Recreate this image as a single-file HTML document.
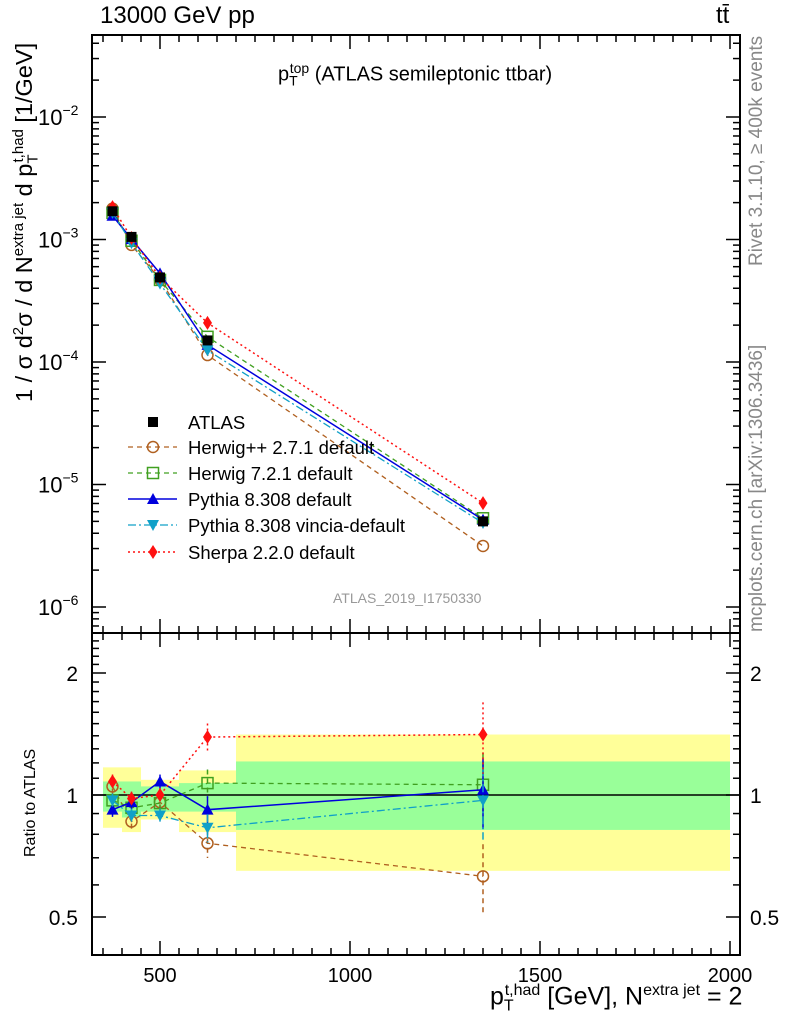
<!DOCTYPE html>
<html><head><meta charset="utf-8"><style>
body{margin:0;background:#fff}
svg{font-family:"Liberation Sans",Arial,sans-serif}
</style></head><body>
<svg id="c" width="786" height="1024" xmlns="http://www.w3.org/2000/svg">
<g id="bands"></g>
<g id="grid"></g>
<g id="series"></g>
<g id="frame"></g>
<g id="txt"></g>
</svg>
<script>
const binLo=[350,400,450,550,700];
const binHi=[400,450,550,700,2000];
const xs=[375,425,500,625,1350];
const atlas=[1.7e-3,1.05e-3,4.9e-4,1.5e-4,5.0e-6];
const yelHi=[1.17,1.17,1.09,1.15,1.41];
const yelLo=[0.83,0.81,0.87,0.81,0.65];
const grnHi=[1.08,1.08,1.05,1.07,1.21];
const grnLo=[0.91,0.88,0.91,0.91,0.82];
const rHerwigpp=[1.05,0.86,0.96,0.76,0.63];
const rHerwig7=[0.97,0.93,0.955,1.07,1.06];
const rPythia=[0.92,0.96,1.08,0.92,1.03];
const rVincia=[0.97,0.89,0.89,0.83,0.97];
const rSherpa=[1.08,0.98,1.0,1.39,1.41];
const yTicks=[-2,-3,-4,-5,-6];
const xTicks=[500,1000,1500,2000];
const rTicks=[0.5,1,2];

const NS="http://www.w3.org/2000/svg";
const L=92,R=740,T=35,MB=633,RB=955;
const X=v=>160+(v-500)*0.38;
const Y=v=>117-(Math.log10(v)+2)*122.5;
const YR=v=>795-Math.log2(v)*122;
function el(p,tag,a,txt){const e=document.createElementNS(NS,tag);for(const k in a)e.setAttribute(k,a[k]);if(txt!==undefined)e.textContent=txt;document.getElementById(p).appendChild(e);return e;}

for(let i=0;i<xs.length;i++){
 const b=el('bands','rect',{x:X(binLo[i]),y:YR(yelHi[i]),width:X(binHi[i])-X(binLo[i]),height:YR(yelLo[i])-YR(yelHi[i]),fill:'#ffff99'});
 
 
 const g=el('bands','rect',{x:X(binLo[i]),y:YR(grnHi[i]),width:X(binHi[i])-X(binLo[i]),height:YR(grnLo[i])-YR(grnHi[i]),fill:'#99ff99'});
 
 
}
el('bands','line',{x1:L,x2:R,y1:YR(1),y2:YR(1),stroke:'#000','stroke-width':1.5});

el('frame','rect',{x:L,y:T,width:R-L,height:MB-T,fill:'none',stroke:'#000','stroke-width':2});
el('frame','rect',{x:L,y:MB,width:R-L,height:RB-MB,fill:'none',stroke:'#000','stroke-width':2});
for(let v=350;v<=2000;v+=50){
 const big=v%500===0, x=X(v), len=big?14:7;
 for(const [y0,dir] of [[T,1],[MB,-1],[MB,1],[RB,-1]]) el('frame','line',{x1:x,x2:x,y1:y0,y2:y0+dir*len,stroke:'#000','stroke-width':1.5});
}
for(let d=-7;d<=-1;d++){for(let m=1;m<10;m++){const v=m*Math.pow(10,d),y=Y(v);if(y<T||y>MB)continue;const len=m===1?14:7;
 el('frame','line',{x1:L,x2:L+len,y1:y,y2:y,stroke:'#000','stroke-width':1.5});el('frame','line',{x1:R,x2:R-len,y1:y,y2:y,stroke:'#000','stroke-width':1.5});}}
for(const v of [0.4,0.5,0.6,0.7,0.8,0.9,1,1.1,1.2,1.3,1.4,1.5,1.6,1.7,1.8,1.9,2,2.1,2.2,2.3,2.4]){const y=YR(v);if(y<MB||y>RB)continue;const big=[0.5,1,2].includes(v),len=big?14:7;
 el('frame','line',{x1:L,x2:L+len,y1:y,y2:y,stroke:'#000','stroke-width':1.5});el('frame','line',{x1:R,x2:R-len,y1:y,y2:y,stroke:'#000','stroke-width':1.5});}

for(const d of yTicks){const t=el('txt','text',{x:38,y:Y(Math.pow(10,d))+8,'font-size':22},'10');const s=el('txt','tspan',{dy:-10,'font-size':14},'−'+(-d));t.appendChild(s);
 
 }
for(const v of xTicks){const t=el('txt','text',{x:X(v),y:982,'font-size':20,'text-anchor':'middle'},String(v));
 
 }
for(const v of rTicks){const t=el('txt','text',{x:78,y:YR(v)+8,'font-size':21,'text-anchor':'end'},String(v));
 
 
 const t2=el('txt','text',{x:750,y:YR(v)+8,'font-size':21},String(v));
 
 }

const series=[
 {n:'herwigpp',r:rHerwigpp,c:'#b06020',dash:'5,4',m:'circle',w:1.3},
 {n:'herwig7',r:rHerwig7,c:'#40a020',dash:'5,4',m:'square',w:1.3},
 {n:'pythia',r:rPythia,c:'#0000dd',dash:'',m:'up',w:1.5},
 {n:'vincia',r:rVincia,c:'#10a0c8',dash:'8,3,2,3',m:'down',w:1.3},
 {n:'sherpa',r:rSherpa,c:'#ff1010',dash:'2,3',m:'diamond',w:1.5}];
function marker(g,type,x,y,c){
 if(type==='circle')return el(g,'circle',{cx:x,cy:y,r:5.5,fill:'none',stroke:c,'stroke-width':1.5});
 if(type==='square')return el(g,'rect',{x:x-5.5,y:y-5.5,width:11,height:11,fill:'none',stroke:c,'stroke-width':1.5});
 if(type==='up')return el(g,'path',{d:`M${x-6},${y+5}L${x+6},${y+5}L${x},${y-6}Z`,fill:c});
 if(type==='down')return el(g,'path',{d:`M${x-6},${y-5}L${x+6},${y-5}L${x},${y+6}Z`,fill:c});
 if(type==='diamond')return el(g,'path',{d:`M${x},${y-7}L${x+4.5},${y}L${x},${y+7}L${x-4.5},${y}Z`,fill:c});
 if(type==='sq')return el(g,'rect',{x:x-5,y:y-5,width:10,height:10,fill:c});
}
for(const s of series){
 const main=xs.map((x,i)=>[X(x),Y(atlas[i]*s.r[i])]);
 const rat=xs.map((x,i)=>[X(x),YR(s.r[i])]);
 for(const pts of [main,rat]){
  const p=el('series','polyline',{points:pts.map(p=>p.join(',')).join(' '),fill:'none',stroke:s.c,'stroke-width':s.w,'stroke-dasharray':s.dash});
  
  
 }
 rat.forEach((p,i)=>{const e=i===4?0.2:(i===3?0.08:0.04);
  el('series','line',{x1:p[0],x2:p[0],y1:YR(s.r[i]*(1+e)),y2:YR(s.r[i]*(1-e)),stroke:s.c,'stroke-width':1.5,'stroke-dasharray':s.dash});});
 for(const pts of [main,rat])pts.forEach(p=>{const m=marker('series',s.m,p[0],p[1],s.c);
  
  });
}
xs.forEach((x,i)=>{const m=marker('series','sq',X(x),Y(atlas[i]),'#000');
 
 });

const leg=[['ATLAS',null],['Herwig++ 2.7.1 default',0],['Herwig 7.2.1 default',1],['Pythia 8.308 default',2],['Pythia 8.308 vincia-default',3],['Sherpa 2.2.0 default',4]];
const ly=[422,447,473,499,525,552];
leg.forEach((l,i)=>{const y=ly[i];
 if(l[1]===null)marker('txt','sq',153,y,'#000');
 else{const s=series[l[1]];el('txt','line',{x1:128,x2:177,y1:y,y2:y,stroke:s.c,'stroke-width':s.w,'stroke-dasharray':s.dash});marker('txt',s.m,153,y,s.c);}
 const t=el('txt','text',{x:188,y:y+7,'font-size':18.5},l[0]);
 
 });
</script>
<div style="position:absolute;left:0;top:0;width:786px;height:1024px;font-family:'Liberation Sans',Arial,sans-serif;pointer-events:none">
<div style="position:absolute;left:100px;top:2px;font-size:24px">13000 GeV pp</div>
<div style="position:absolute;left:716px;top:2px;font-size:24px">tt̄</div>
<div style="position:absolute;left:278px;top:60px;font-size:20px">p<sub style="font-size:14px">T</sub><sup style="font-size:14px;margin-left:-8px">top</sup> (ATLAS semileptonic ttbar)</div>
<div style="position:absolute;left:333px;top:590px;font-size:14px;color:#999">ATLAS_2019_I1750330</div>
<div style="position:absolute;left:746px;top:266px;transform:rotate(-90deg);transform-origin:0 0;font-size:19px;color:#888;white-space:nowrap">Rivet 3.1.10, ≥ 400k events</div>
<div style="position:absolute;left:746px;top:632px;transform:rotate(-90deg);transform-origin:0 0;font-size:19px;color:#888;white-space:nowrap">mcplots.cern.ch [arXiv:1306.3436]</div>
<div style="position:absolute;left:10px;top:402px;transform:rotate(-90deg);transform-origin:0 0;font-size:23.5px;white-space:nowrap">1 / σ d<sup style="font-size:15px">2</sup>σ / d N<sup style="font-size:15px">extra jet</sup> d p<sub style="font-size:15px">T</sub><sup style="font-size:15px;margin-left:-8px">t,had</sup> [1/GeV]</div>
<div style="position:absolute;left:22px;top:857px;transform:rotate(-90deg);transform-origin:0 0;font-size:16px;white-space:nowrap">Ratio to ATLAS</div>
<div style="position:absolute;left:490px;top:982px;font-size:25px;white-space:nowrap">p<sub style="font-size:16px">T</sub><sup style="font-size:16px;margin-left:-9px">t,had</sup> [GeV], N<sup style="font-size:16px">extra jet</sup> = 2</div>
</div>
</body></html>
